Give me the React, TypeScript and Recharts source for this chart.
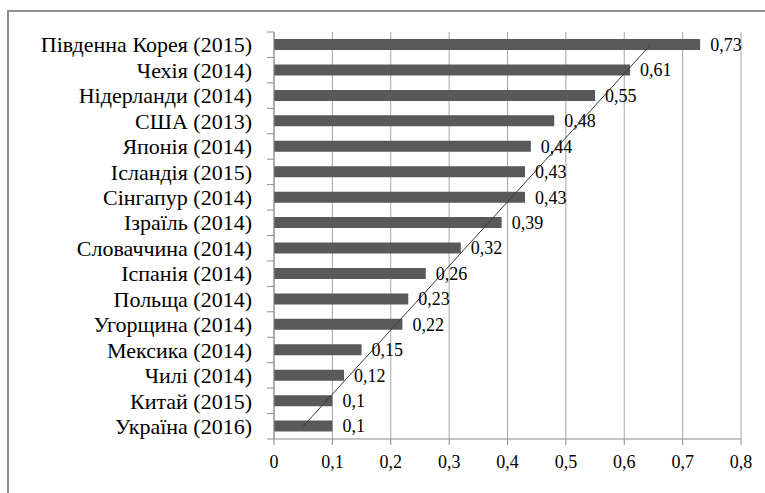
import React from 'react';
import { ComposedChart, Bar, Line, XAxis, YAxis, CartesianGrid, LabelList } from 'recharts';

// Countries (top to bottom) and their values
const countries = [
  'Південна Корея (2015)',
  'Чехія (2014)',
  'Нідерланди (2014)',
  'США (2013)',
  'Японія (2014)',
  'Ісландія (2015)',
  'Сінгапур (2014)',
  'Ізраїль (2014)',
  'Словаччина (2014)',
  'Іспанія (2014)',
  'Польща (2014)',
  'Угорщина (2014)',
  'Мексика (2014)',
  'Чилі (2014)',
  'Китай (2015)',
  'Україна (2016)',
];
const values = [0.73, 0.61, 0.55, 0.48, 0.44, 0.43, 0.43, 0.39, 0.32, 0.26, 0.23, 0.22, 0.15, 0.12, 0.1, 0.1];
// linear trend line, only the two end points
const trend = [0.645, null, null, null, null, null, null, null, null, null, null, null, null, null, null, 0.05];
const xTicks = [0, 0.1, 0.2, 0.3, 0.4, 0.5, 0.6, 0.7, 0.8];

const data = countries.map((name, i) => ({ name, value: values[i], trend: trend[i] }));

const W = 765;
const H = 493;
const MARGIN = { top: 32, right: 24, bottom: 24, left: 0 };
const Y_WIDTH = 274;
const X_HEIGHT = 30;
const BAND = (H - MARGIN.top - MARGIN.bottom - X_HEIGHT) / countries.length;
const AXIS_COLOR = '#8c8c8c';
const FONT = "'Liberation Serif', 'Times New Roman', Times, serif";

const comma = (v: number) => String(v).replace('.', ',');

const CategoryTick = (props: any) => {
  const { y, payload, index } = props;
  const ax = MARGIN.left + Y_WIDTH;
  return (
    <g>
      <text x={ax - 22} y={y} dy="0.35em" textAnchor="end" fontSize={22} fontFamily={FONT} fill="#000">
        {payload.value}
      </text>
      <line x1={ax - 7} x2={ax} y1={y + BAND / 2} y2={y + BAND / 2} stroke={AXIS_COLOR} />
      {index === 0 && <line x1={ax - 7} x2={ax} y1={y - BAND / 2} y2={y - BAND / 2} stroke={AXIS_COLOR} />}
    </g>
  );
};

export default function App() {
  return (
    <div style={{ position: 'absolute', left: 0, top: 0, width: W, height: H, background: '#fff', fontFamily: FONT }}>
      <div
        style={{
          position: 'absolute',
          left: 7,
          top: 10,
          width: W - 7,
          height: H - 10,
          borderLeft: '2px solid #8e8e8e',
          borderTop: '2px solid #8e8e8e',
          boxSizing: 'border-box',
        }}
      />
      <div style={{ position: 'absolute', left: 0, top: 0 }}>
        <ComposedChart width={W} height={H} data={data} layout="vertical" margin={MARGIN}>
          <CartesianGrid horizontal={false} stroke="#a6a6a6" />
          <XAxis
            type="number"
            domain={[0, 0.8]}
            ticks={xTicks}
            tickFormatter={comma}
            height={X_HEIGHT}
            stroke={AXIS_COLOR}
            tickSize={6}
            tickMargin={10}
            tick={{ fill: '#000', fontSize: 18, fontFamily: FONT }}
          />
          <YAxis
            type="category"
            dataKey="name"
            width={Y_WIDTH}
            stroke={AXIS_COLOR}
            tickLine={false}
            tick={<CategoryTick />}
            interval={0}
          />
          <Bar dataKey="value" fill="#595959" barSize={11} isAnimationActive={false}>
            <LabelList
              dataKey="value"
              position="right"
              offset={10}
              formatter={(v: any) => comma(v)}
              fill="#000"
              fontSize={18}
              fontFamily={FONT}
            />
          </Bar>
          <Line
            dataKey="trend"
            stroke="#3a3a3a"
            strokeWidth={1}
            dot={false}
            connectNulls
            isAnimationActive={false}
          />
        </ComposedChart>
      </div>
    </div>
  );
}
